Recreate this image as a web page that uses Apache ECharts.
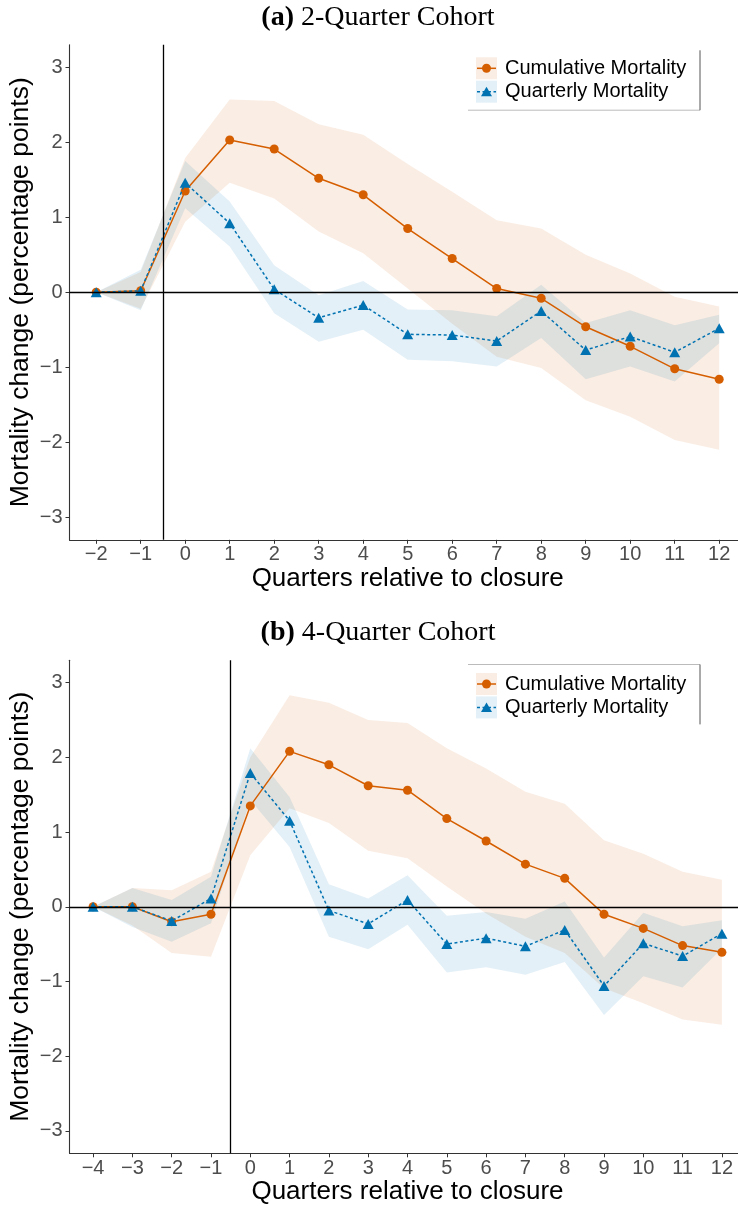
<!DOCTYPE html>
<html><head><meta charset="utf-8">
<script src="https://cdn.jsdelivr.net/npm/echarts@6/dist/echarts.min.js"></script>
<style>html,body{margin:0;padding:0;background:#fff}#c{width:738px;height:1209px}</style>
</head><body><div id="c"></div>
<script>
// ---------- data ----------
const quartersA = [-2,-1,0,1,2,3,4,5,6,7,8,9,10,11,12];
const cumA    = [0,0.02,1.35,2.03,1.91,1.52,1.30,0.85,0.45,0.05,-0.08,-0.46,-0.72,-1.02,-1.16];
const cumA_lo = [0,-0.22,0.94,1.46,1.25,0.81,0.52,0.05,-0.42,-0.86,-1.01,-1.44,-1.66,-1.97,-2.10];
const cumA_hi = [0,0.27,1.79,2.57,2.55,2.24,2.10,1.71,1.34,0.96,0.85,0.50,0.25,-0.06,-0.19];
const qtrA    = [0,0.02,1.46,0.92,0.04,-0.34,-0.17,-0.56,-0.57,-0.65,-0.25,-0.77,-0.59,-0.80,-0.48];
const qtrA_lo = [0,-0.24,1.12,0.61,-0.28,-0.66,-0.50,-0.90,-0.92,-0.99,-0.61,-1.16,-0.99,-1.19,-0.68];
const qtrA_hi = [0,0.30,1.75,1.21,0.36,-0.04,0.15,-0.23,-0.24,-0.32,0.10,-0.41,-0.24,-0.44,-0.30];

const quartersB = [-4,-3,-2,-1,0,1,2,3,4,5,6,7,8,9,10,11,12];
const cumB    = [0,0,-0.20,-0.10,1.35,2.08,1.90,1.62,1.56,1.18,0.88,0.57,0.38,-0.10,-0.29,-0.52,-0.61];
const cumB_lo = [0,-0.25,-0.62,-0.67,0.69,1.32,1.12,0.75,0.65,0.27,-0.09,-0.40,-0.62,-1.09,-1.29,-1.51,-1.58];
const cumB_hi = [0,0.25,0.22,0.47,2.00,2.83,2.73,2.50,2.46,2.12,1.85,1.54,1.38,0.89,0.71,0.47,0.36];
const qtrB    = [0,0,-0.19,0.11,1.79,1.15,-0.05,-0.23,0.09,-0.50,-0.42,-0.53,-0.31,-1.06,-0.49,-0.66,-0.36];
const qtrB_lo = [0,-0.27,-0.47,-0.22,1.43,0.80,-0.40,-0.57,-0.24,-0.88,-0.81,-0.91,-0.74,-1.45,-0.93,-1.08,-0.56];
const qtrB_hi = [0,0.25,0.09,0.40,2.12,1.47,0.30,0.11,0.42,-0.12,-0.07,-0.16,0.07,-0.68,-0.08,-0.26,-0.18];

const yTicks = [-3,-2,-1,0,1,2,3];
const seriesNames = ['Cumulative Mortality','Quarterly Mortality'];
const panelTitles = [['(a)',' 2-Quarter Cohort'],['(b)',' 4-Quarter Cohort']];
const xTitle = 'Quarters relative to closure';
const yTitle = 'Mortality change (percentage points)';
const closureLine = -0.5;

// ---------- styles ----------
const ORANGE = '#D55E00', BLUE = '#0072B2';
const ORANGE_BAND = 'rgba(213,94,0,0.11)', BLUE_BAND = 'rgba(0,114,178,0.11)';
const SANS = 'Liberation Sans, Arial, sans-serif';
const SERIF = 'Liberation Serif, Times New Roman, serif';
const fmt = v => (v < 0 ? '\u2212' + Math.abs(v) : String(v));

function bandSeries(xs, lo, hi, color, idx) {
  return {
    type: 'custom', xAxisIndex: idx, yAxisIndex: idx, silent: true, z: 1,
    data: xs.map((x, i) => [x, lo[i], hi[i]]),
    encode: {x: 0, y: [1, 2]},
    renderItem: function (params, api) {
      if (params.dataIndex !== 0) return null;
      const pts = [];
      for (let i = 0; i < xs.length; i++) pts.push(api.coord([xs[i], hi[i]]));
      for (let i = xs.length - 1; i >= 0; i--) pts.push(api.coord([xs[i], lo[i]]));
      return {type: 'polygon', shape: {points: pts}, style: {fill: color}};
    }
  };
}
function lineSeries(xs, ys, name, idx, isCum) {
  const s = {
    type: 'line', name: name, xAxisIndex: idx, yAxisIndex: idx, z: isCum ? 3 : 4,
    data: xs.map((x, i) => [x, ys[i]]),
    symbol: isCum ? 'circle' : 'triangle',
    symbolSize: isCum ? 9 : [11, 10],
    itemStyle: {color: isCum ? ORANGE : BLUE},
    lineStyle: {color: isCum ? ORANGE : BLUE, width: 1.5, type: isCum ? 'solid' : [3, 2.5]},
    silent: true
  };
  if (isCum) {
    s.markLine = {
      silent: true, symbol: 'none', label: {show: false}, animation: false,
      lineStyle: {color: '#000', width: 1.3, type: 'solid'},
      data: [{yAxis: 0}, {xAxis: closureLine}]
    };
  }
  return s;
}
function xAxisOpt(idx, xs, min) {
  return {
    gridIndex: idx, type: 'value', min: min, max: 12.6,
    axisLine: {show: true, onZero: false, lineStyle: {color: '#333', width: 1.1}},
    axisTick: {show: true, length: 4, customValues: xs, lineStyle: {color: '#333'}},
    axisLabel: {customValues: xs, formatter: fmt, color: '#4D4D4D', fontSize: 20, fontFamily: SANS, margin: 5},
    splitLine: {show: false},
    name: xTitle, nameLocation: 'middle', nameGap: 25,
    nameTextStyle: {fontSize: 26, color: '#000', fontFamily: SANS}
  };
}
function yAxisOpt(idx) {
  return {
    gridIndex: idx, type: 'value', min: -3.3, max: 3.3,
    axisLine: {show: true, onZero: false, lineStyle: {color: '#333', width: 1.1}},
    axisTick: {show: true, length: 4, customValues: yTicks, lineStyle: {color: '#333'}},
    axisLabel: {customValues: yTicks, formatter: fmt, color: '#4D4D4D', fontSize: 20, fontFamily: SANS, margin: 7},
    splitLine: {show: false},
    name: yTitle, nameLocation: 'middle', nameGap: 35, nameRotate: 90, nameMoveOverlap: false,
    nameTextStyle: {fontSize: 26.5, color: '#000', fontFamily: SANS}
  };
}
function legendGraphic(cy, topBorder) {
  const cy2 = cy + 23.4;
  const els = [
    {type: 'rect', shape: {x: 476, y: cy - 11, width: 21, height: 22}, style: {fill: ORANGE_BAND}},
    {type: 'line', shape: {x1: 477, y1: cy, x2: 496, y2: cy}, style: {stroke: ORANGE, lineWidth: 1.5}},
    {type: 'circle', shape: {cx: 486.5, cy: cy, r: 4.5}, style: {fill: ORANGE}},
    {type: 'text', x: 505, y: cy, style: {text: seriesNames[0], fill: '#000', font: '20px ' + SANS, verticalAlign: 'middle', align: 'left'}},
    {type: 'rect', shape: {x: 476, y: cy2 - 11, width: 21, height: 22}, style: {fill: BLUE_BAND}},
    {type: 'line', shape: {x1: 477, y1: cy2, x2: 496, y2: cy2}, style: {stroke: BLUE, lineWidth: 1.5, lineDash: [3, 2.5]}},
    {type: 'polygon', shape: {points: [[486.5, cy2 - 5], [481, cy2 + 4.5], [492, cy2 + 4.5]]}, style: {fill: BLUE}},
    {type: 'text', x: 505, y: cy2, style: {text: seriesNames[1], fill: '#000', font: '20px ' + SANS, verticalAlign: 'middle', align: 'left'}}
  ];
  if (topBorder) {
    els.push({type: 'line', shape: {x1: 468, y1: cy - 19.5, x2: 700, y2: cy - 19.5}, style: {stroke: '#BBB', lineWidth: 1}});
    els.push({type: 'line', shape: {x1: 700, y1: cy - 19.5, x2: 700, y2: cy2 + 17}, style: {stroke: '#555', lineWidth: 1}});
  } else {
    els.push({type: 'line', shape: {x1: 468, y1: cy2 + 18.5, x2: 700, y2: cy2 + 18.5}, style: {stroke: '#BBB', lineWidth: 1}});
    els.push({type: 'line', shape: {x1: 700, y1: cy - 18, x2: 700, y2: cy2 + 18.5}, style: {stroke: '#555', lineWidth: 1}});
  }
  return els;
}
function titleGraphic(y, parts) {
  return {type: 'text', x: 378, y: y, style: {
    text: '{b|' + parts[0] + '}' + parts[1], fill: '#000', font: '28px ' + SERIF,
    align: 'center', verticalAlign: 'middle',
    rich: {b: {fontWeight: 'bold', fontSize: 28, fontFamily: SERIF, fill: '#000'}}
  }};
}

const chart = echarts.init(document.getElementById('c'), null, {renderer: 'canvas'});
chart.setOption({
  animation: false,
  backgroundColor: '#fff',
  grid: [
    {left: 69.5, top: 44.8, width: 676.4, height: 495, containLabel: false, outerBoundsMode: 'none'},
    {left: 69.5, top: 660.2, width: 676, height: 493.1, containLabel: false, outerBoundsMode: 'none'}
  ],
  xAxis: [xAxisOpt(0, quartersA, -2.6), xAxisOpt(1, quartersB, -4.6)],
  yAxis: [yAxisOpt(0), yAxisOpt(1)],
  series: [
    bandSeries(quartersA, cumA_lo, cumA_hi, ORANGE_BAND, 0),
    bandSeries(quartersA, qtrA_lo, qtrA_hi, BLUE_BAND, 0),
    lineSeries(quartersA, cumA, seriesNames[0], 0, true),
    lineSeries(quartersA, qtrA, seriesNames[1], 0, false),
    bandSeries(quartersB, cumB_lo, cumB_hi, ORANGE_BAND, 1),
    bandSeries(quartersB, qtrB_lo, qtrB_hi, BLUE_BAND, 1),
    lineSeries(quartersB, cumB, seriesNames[0], 1, true),
    lineSeries(quartersB, qtrB, seriesNames[1], 1, false)
  ],
  graphic: [
    titleGraphic(18, panelTitles[0]),
    titleGraphic(633, panelTitles[1]),
    {type: 'group', children: legendGraphic(68.3, false)},
    {type: 'group', children: legendGraphic(684, true)}
  ]
});
</script></body></html>
